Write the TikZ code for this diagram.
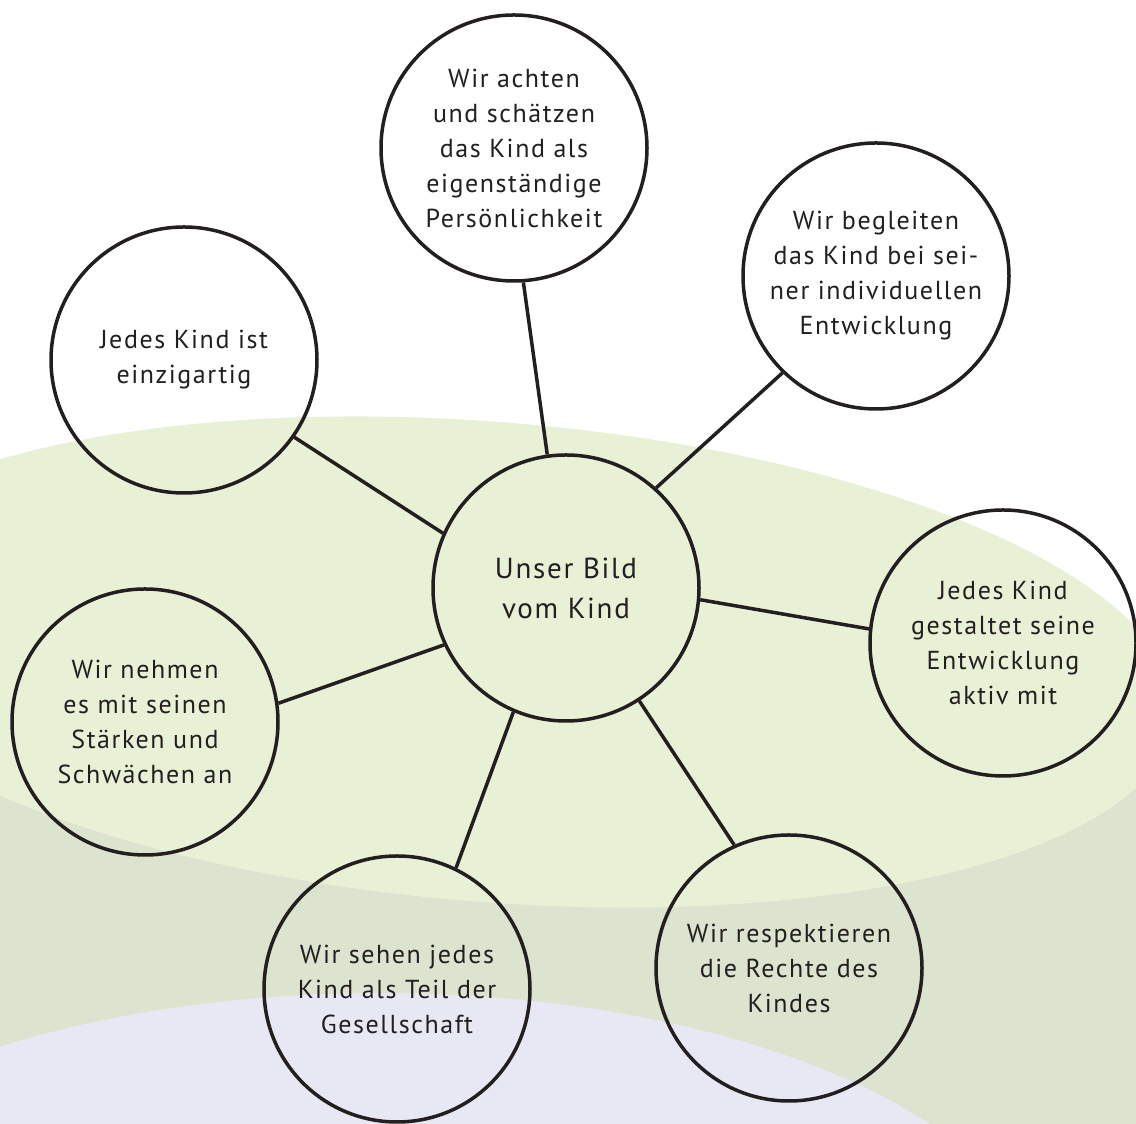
\documentclass[tikz,border=0pt]{standalone}
\usepackage{fontspec}
\setmainfont[LetterSpace=6]{PT Sans}
\definecolor{lgreen}{HTML}{E8F0D6}
\definecolor{ggreen}{HTML}{DCE3CE}
\definecolor{lav}{HTML}{E8E8F5}
\definecolor{ink}{HTML}{231F20}
\tikzset{
  bubble/.style={circle, draw=ink, line width=3.5pt, minimum size=266pt, inner sep=0pt, align=center, text=ink, font=\fontsize{26}{35}\selectfont},
  hub/.style={bubble, font=\fontsize{29}{40}\selectfont},
  link/.style={draw=ink, line width=3.5pt}
}
\begin{document}
\begin{tikzpicture}[x=1pt,y=1pt]
\useasboundingbox (0,0) rectangle (1136,1124);
\begin{scope}
\clip (0,0) rectangle (1136,1124);
\fill[white] (0,0) rectangle (1136,1124);
\fill[ggreen] (0,0) rectangle (1136,364);
\fill[lgreen, rotate around={-4.6:(490,462)}] (490,462) ellipse [x radius=687, y radius=240];
\fill[lav] (380,-169) ellipse [x radius=665, y radius=300];
\end{scope}

\node[hub] (c) at (566,536) {Unser Bild\\vom Kind};
\node[bubble] (t) at (514,976) {Wir achten\\und schätzen\\das Kind als\\eigenständige\\Persönlichkeit};
\node[bubble] (tr) at (876,848) {Wir begleiten\\das Kind bei sei-\\ner individuellen\\Entwicklung};
\node[bubble] (tl) at (184,764) {Jedes Kind ist\\einzigartig};
\node[bubble] (r) at (1003,481) {Jedes Kind\\gestaltet seine\\Entwicklung\\aktiv mit};
\node[bubble] (l) at (145,402) {Wir nehmen\\es mit seinen\\Stärken und\\Schwächen an};
\node[bubble] (b) at (397,135) {Wir sehen jedes\\Kind als Teil der\\Gesellschaft};
\node[bubble] (br) at (789,156) {Wir respektieren\\die Rechte des\\Kindes};

\draw[link] (tl.-35.3) -- (c.156.7);
\draw[link] (t.-86.6) -- (c.98.6);
\draw[link] (tr.226.8) -- (c.48.9);
\draw[link] (c.-5.1) -- (r.174);
\draw[link] (l.8.8) -- (c.205.4);
\draw[link] (c.247.9) -- (b.64.6);
\draw[link] (c.303.2) -- (br.114.6);
\end{tikzpicture}
\end{document}
